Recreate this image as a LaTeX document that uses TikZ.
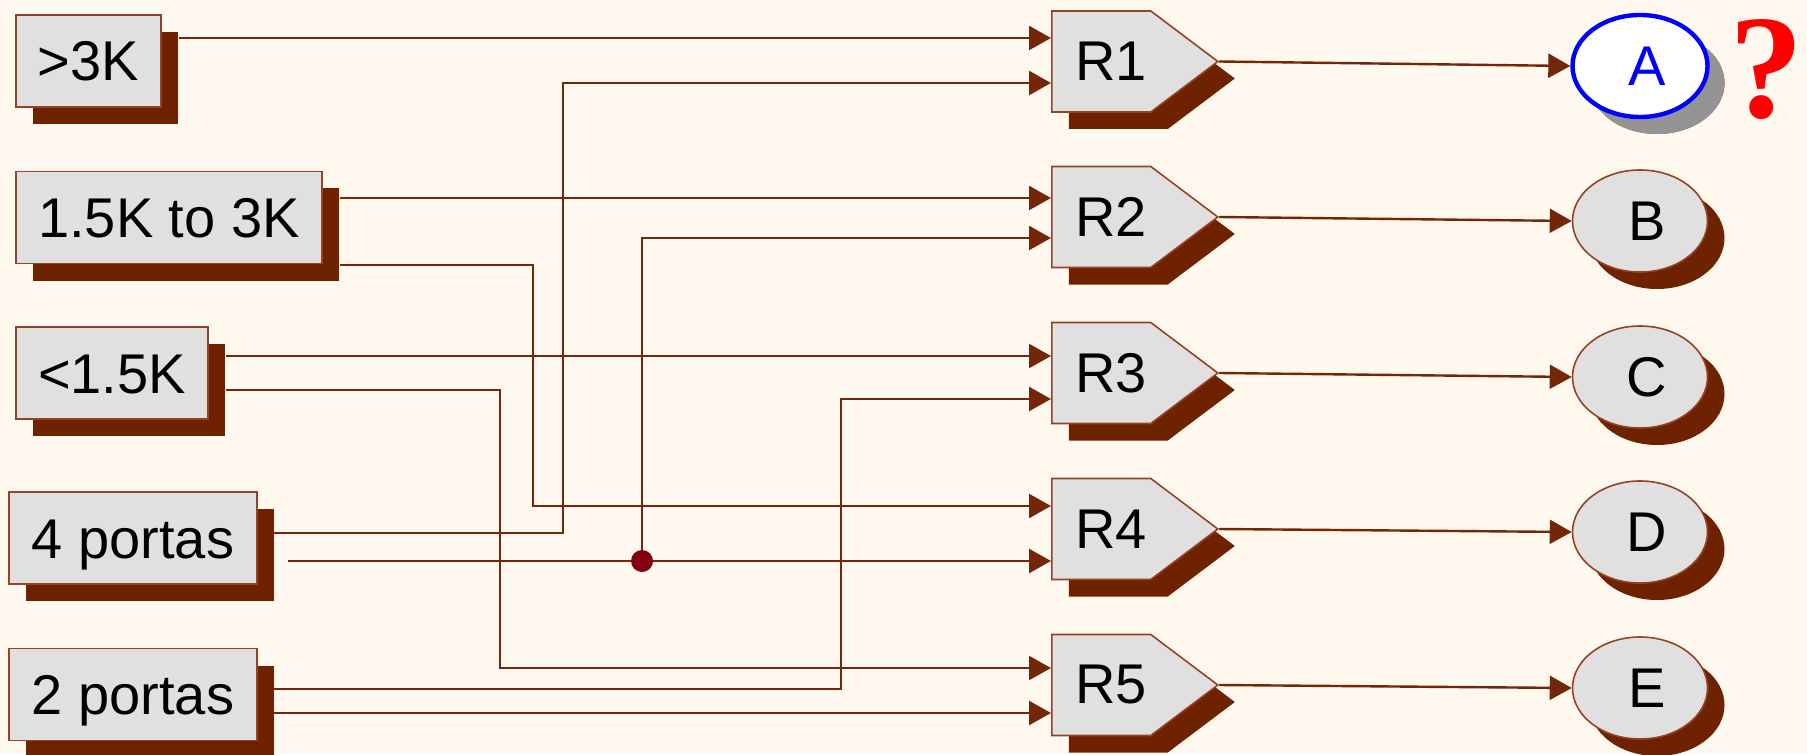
\documentclass[tikz,border=0pt]{standalone}
\usepackage{fontspec}
\setmainfont{Liberation Sans}
\newfontfamily\qfont{Liberation Serif}
\usetikzlibrary{shapes.geometric,shapes.symbols,shadows,arrows.meta}

\definecolor{bgcream}{RGB}{255,248,238}
\definecolor{wirebrown}{RGB}{116,38,8}
\definecolor{shadebrown}{RGB}{110,34,0}
\definecolor{edgebrown}{RGB}{150,66,36}
\definecolor{boxgray}{RGB}{224,224,224}
\definecolor{dotred}{RGB}{130,0,16}

\tikzset{
  wire/.style={draw=wirebrown, line width=1.2pt},
  flow/.style={wire, -{Triangle[length=11pt,width=12pt]}},
  brownshadow/.style={drop shadow={shadow xshift=8.5pt, shadow yshift=-8.5pt, fill=shadebrown, opacity=1}},
  srcbox/.style={rectangle, draw=edgebrown, line width=0.8pt, fill=boxgray, brownshadow,
    minimum height=46pt, inner sep=0pt, text height=20pt, text depth=0pt,
    font=\fontsize{28}{34}\selectfont},
  rulebox/.style={signal, signal to=east, signal from=nowhere, signal pointer angle=74,
    draw=edgebrown, line width=0.8pt, fill=boxgray, brownshadow, anchor=west,
    minimum width=83pt, minimum height=50.5pt, inner sep=0pt,
    execute at begin node=\hspace{10pt}, font=\fontsize{28}{34}\selectfont},
  outnode/.style={ellipse, draw=edgebrown, line width=0.8pt, fill=boxgray, brownshadow,
    minimum width=67.5pt, minimum height=51pt, inner sep=0pt,
    execute at begin node=\hspace{7pt}, font=\fontsize{28}{34}\selectfont},
  junction/.style={circle, fill=dotred, minimum size=11pt, inner sep=0pt}
}

\begin{document}
\begin{tikzpicture}[x=0.5pt, y=-0.5pt]
\fill[bgcream] (0,0) rectangle (1807,754);

%inputs
\node[srcbox, minimum width=72.5pt] (s1) at (88.5,61) {>3K};
\node[srcbox, minimum width=153pt] (s2) at (169,217.5) {1.5K to 3K};
\node[srcbox, minimum width=96pt] (s3) at (112,373) {<1.5K};
\node[srcbox, minimum width=124pt] (s4) at (133,538) {4 portas};
\node[srcbox, minimum width=124pt] (s5) at (133,694.5) {2 portas};

%rules
\node[rulebox] (r1) at (1051,61.5) {R1};
\node[rulebox] (r2) at (1051,217) {R2};
\node[rulebox] (r3) at (1051,373) {R3};
\node[rulebox] (r4) at (1051,529) {R4};
\node[rulebox] (r5) at (1051,685) {R5};

%outputs
\node[outnode, draw=blue, line width=2.2pt, fill=white, text=blue,
  drop shadow={shadow xshift=8.5pt, shadow yshift=-8.5pt, fill=black!42, opacity=1}] (oa) at (1640,66) {A};
\node[outnode] (ob) at (1640,221) {B};
\node[outnode] (oc) at (1640,377) {C};
\node[outnode] (od) at (1640,532) {D};
\node[outnode] (oe) at (1640,688) {E};
\node[text=red, font=\qfont\bfseries\fontsize{74}{88}\selectfont] (qa) at (1766,70) {?};

%ports
\coordinate (p1a) at (179,38);
\coordinate (p2a) at (340,198);
\coordinate (p2b) at (340,265);
\coordinate (p3a) at (226,356);
\coordinate (p3b) at (226,390);
\coordinate (p4a) at (274,533);
\coordinate (p4b) at (288,561);
\coordinate (p5a) at (274,689);
\coordinate (p5b) at (274,713);
\coordinate (r1a) at (1051,38);
\coordinate (r1b) at (1051,83);
\coordinate (r2a) at (1051,198);
\coordinate (r2b) at (1051,238);
\coordinate (r3a) at (1051,356);
\coordinate (r3b) at (1051,399);
\coordinate (r4a) at (1051,506);
\coordinate (r4b) at (1051,561);
\coordinate (r5a) at (1051,668);
\coordinate (r5b) at (1051,713);
\coordinate (bus1) at (563,0);
\coordinate (bus2) at (533,0);
\coordinate (bus3) at (500,0);
\coordinate (bus4) at (642,0);
\coordinate (bus5) at (841,0);
\coordinate (jn) at (642,561);

%wires
\draw[flow] (p1a) -- (r1a);
\draw[flow] (p4a) -| (bus1 |- r1b) -- (r1b);
\draw[flow] (p2a) -- (r2a);
\draw[flow] (jn) -| (bus4 |- r2b) -- (r2b);
\draw[flow] (p3a) -- (r3a);
\draw[flow] (p5a) -| (bus5 |- r3b) -- (r3b);
\draw[flow] (p2b) -| (bus2 |- r4a) -- (r4a);
\draw[wire] (p4b) -- (jn);
\draw[flow] (jn) -- (r4b);
\draw[flow] (p3b) -| (bus3 |- r5a) -- (r5a);
\draw[flow] (p5b) -- (r5b);
\node[junction] (jdot) at (jn) {};

%outputs
\draw[flow] (r1.east) -- (oa.west);
\draw[flow] (r2.east) -- (ob.west);
\draw[flow] (r3.east) -- (oc.west);
\draw[flow] (r4.east) -- (od.west);
\draw[flow] (r5.east) -- (oe.west);

\pgfresetboundingbox
\path[use as bounding box] (0,0) rectangle (1807,754);
\end{tikzpicture}
\end{document}
